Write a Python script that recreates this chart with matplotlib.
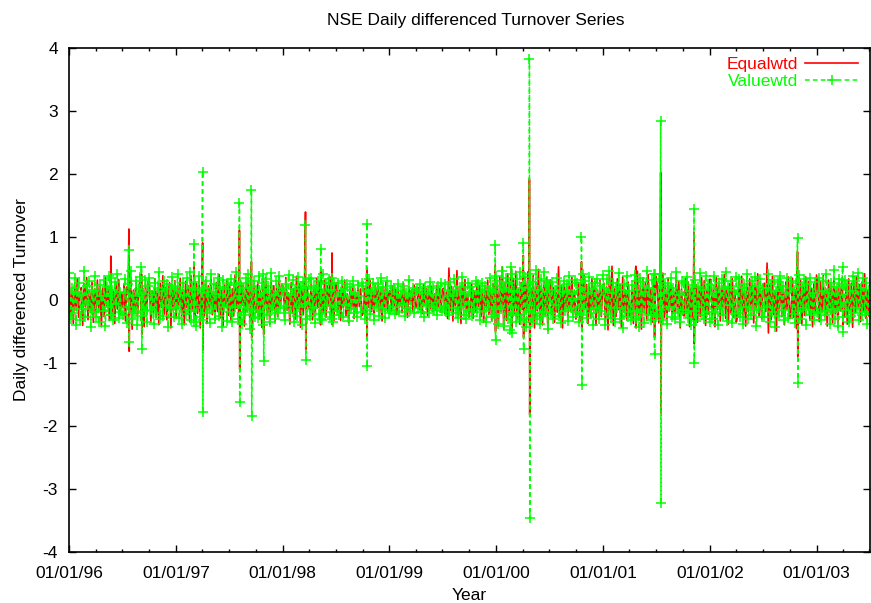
import matplotlib
matplotlib.use('Agg')
import matplotlib.pyplot as plt
import matplotlib.dates as mdates
import pandas as pd

plt.rcParams['font.family'] = ['Liberation Sans', 'DejaVu Sans']
plt.rcParams['axes.unicode_minus'] = False

# everyday noise band of the differenced turnover, one row per half-year
value_base = [
    0.42, -0.31, 0.18, -0.22, 0.35, -0.40, 0.12, 0.27, -0.33, 0.08, -0.15, 0.46, -0.28, 0.21, -0.09, 0.30, -0.44, 0.15, -0.19, 0.38,
    -0.27, 0.14, -0.36, 0.23, 0.06, -0.18, 0.31, -0.42, 0.20, -0.11, 0.37, -0.24, 0.16, -0.33, 0.28, -0.07, 0.41, -0.29, 0.12, -0.20,
    -0.25, 0.11, 0.33, -0.37, 0.24, -0.12, 0.45, -0.30, 0.05, -0.21, 0.29, -0.41, 0.17, 0.36, -0.26, 0.09, -0.18, 0.31, -0.35, 0.22,
    0.34, -0.16, 0.08, -0.39, 0.27, -0.22, 0.19, 0.43, -0.31, 0.13, -0.26, 0.30, -0.10, 0.25, -0.44, 0.17, -0.13, 0.36, -0.28, 0.21,
    -0.14, 0.40, -0.29, 0.13, -0.38, 0.26, 0.07, -0.23, 0.34, -0.16, 0.43, -0.32, 0.19, -0.08, 0.28, -0.42, 0.16, 0.37, -0.27, 0.10,
    -0.33, 0.18, 0.29, -0.21, 0.12, -0.37, 0.40, -0.15, 0.24, -0.30, 0.09, 0.35, -0.26, 0.20, -0.43, 0.31, -0.12, 0.17, -0.34, 0.27,
    -0.20, 0.32, -0.36, 0.23, -0.11, 0.44, -0.30, 0.06, 0.27, -0.39, 0.18, -0.24, 0.35, -0.13, 0.41, -0.46, 0.20, -0.17, 0.30, -0.28,
    0.15, -0.29, 0.38, -0.19, 0.26, -0.41, 0.11, 0.33, -0.24, 0.21, -0.35, 0.42, -0.16, 0.08, -0.31, 0.29, -0.22, 0.37, -0.14, 0.19,
    0.14, -0.33, 0.25, -0.10, 0.39, -0.22, 0.08, 0.31, -0.35, 0.17, -0.26, 0.36, -0.12, 0.22, -0.40, 0.28, -0.07, 0.19, -0.30, 0.33,
    -0.26, 0.35, -0.14, 0.22, -0.37, 0.18, 0.29, -0.23, 0.11, -0.32, 0.40, -0.19, 0.26, -0.09, 0.33, -0.28, 0.15, -0.36, 0.24, -0.12,
    -0.18, 0.26, -0.24, 0.12, 0.30, -0.27, 0.16, -0.09, 0.24, -0.34, 0.20, -0.15, 0.29, -0.21, 0.10, -0.28, 0.23, 0.05, -0.19, 0.27,
    0.21, -0.30, 0.14, -0.17, 0.33, -0.23, 0.09, 0.27, -0.32, 0.18, -0.11, 0.25, -0.26, 0.35, -0.14, 0.20, -0.29, 0.12, 0.30, -0.22,
    -0.16, 0.21, -0.12, 0.18, -0.23, 0.09, 0.25, -0.20, 0.14, -0.08, 0.22, -0.26, 0.11, -0.14, 0.31, -0.18, 0.07, 0.19, -0.22, 0.13,
    0.17, -0.14, 0.24, -0.19, 0.10, -0.27, 0.20, -0.09, 0.15, -0.22, 0.28, -0.12, 0.18, -0.17, 0.08, -0.24, 0.22, -0.13, 0.26, -0.18,
    -0.10, 0.24, -0.19, 0.16, -0.25, 0.28, -0.13, 0.06, 0.33, -0.21, 0.15, -0.29, 0.20, -0.11, 0.36, -0.24, 0.12, -0.31, 0.26, -0.17,
    0.20, -0.26, 0.13, -0.15, 0.30, -0.20, 0.24, -0.32, 0.10, 0.27, -0.18, 0.22, -0.35, 0.16, -0.12, 0.34, -0.27, 0.19, -0.23, 0.38,
    0.30, -0.38, 0.22, -0.15, 0.45, -0.42, 0.18, 0.35, -0.30, 0.27, -0.48, 0.40, -0.20, 0.13, -0.36, 0.32, -0.25, 0.43, -0.33, 0.19,
    -0.29, 0.36, -0.44, 0.24, -0.17, 0.41, -0.35, 0.28, -0.22, 0.47, -0.31, 0.15, -0.39, 0.33, -0.26, 0.44, -0.19, 0.30, -0.46, 0.25,
    -0.22, 0.28, -0.31, 0.15, -0.09, 0.34, -0.26, 0.21, -0.37, 0.12, 0.29, -0.18, 0.24, -0.34, 0.38, -0.14, 0.09, -0.27, 0.31, -0.20,
    0.26, -0.35, 0.19, -0.24, 0.41, -0.15, 0.30, -0.29, 0.11, 0.36, -0.22, 0.17, -0.40, 0.27, -0.13, 0.33, -0.31, 0.22, -0.18, 0.39,
    0.18, -0.40, 0.33, -0.23, 0.46, -0.29, 0.11, 0.27, -0.36, 0.20, -0.13, 0.42, -0.31, 0.16, -0.45, 0.25, -0.19, 0.37, -0.28, 0.14,
    -0.32, 0.23, -0.18, 0.39, -0.26, 0.15, -0.43, 0.34, -0.21, 0.28, -0.37, 0.12, 0.45, -0.24, 0.19, -0.33, 0.31, -0.14, 0.40, -0.27,
    -0.24, 0.32, -0.17, 0.40, -0.33, 0.10, 0.26, -0.38, 0.21, -0.12, 0.35, -0.27, 0.18, -0.30, 0.44, -0.22, 0.08, -0.35, 0.29, -0.16,
    0.27, -0.21, 0.36, -0.29, 0.14, -0.40, 0.23, -0.18, 0.31, -0.34, 0.20, -0.12, 0.42, -0.25, 0.16, -0.31, 0.37, -0.19, 0.24, -0.36,
    0.23, -0.30, 0.38, -0.19, 0.12, -0.41, 0.27, -0.14, 0.33, -0.25, 0.17, 0.43, -0.34, 0.20, -0.09, 0.30, -0.37, 0.15, -0.23, 0.36,
    -0.22, 0.33, -0.27, 0.18, -0.38, 0.25, -0.11, 0.40, -0.31, 0.14, -0.24, 0.29, -0.17, 0.36, -0.42, 0.21, -0.13, 0.32, -0.28, 0.19,
    -0.28, 0.19, -0.12, 0.41, -0.35, 0.24, -0.20, 0.31, -0.44, 0.13, 0.28, -0.26, 0.37, -0.16, 0.22, -0.32, 0.10, 0.34, -0.29, 0.18,
    0.30, -0.23, 0.15, -0.37, 0.27, -0.18, 0.39, -0.30, 0.21, -0.13, 0.33, -0.41, 0.24, -0.16, 0.35, -0.25, 0.11, -0.33, 0.28, -0.20,
    -0.21, 0.35, -0.33, 0.14, 0.29, -0.24, 0.40, -0.18, 0.11, -0.38, 0.26, -0.15, 0.47, -0.30, 0.20, -0.42, 0.32, -0.12, 0.24, -0.27,
    0.31, -0.17, 0.23, -0.36, 0.14, -0.26, 0.38, -0.22, 0.29, -0.13, 0.42, -0.32, 0.18, -0.25, 0.35, -0.19, 0.27, -0.39, 0.16, -0.23,
]

equal_base = [
    0.30, -0.25, 0.12, -0.38, 0.22, -0.15, 0.33, -0.28, 0.09, 0.19, -0.41, 0.26, -0.11, 0.35, -0.32, 0.14, -0.20, 0.28, -0.36, 0.17,
    -0.22, 0.31, -0.14, 0.24, -0.43, 0.18, -0.27, 0.35, -0.10, 0.21, -0.33, 0.28, -0.19, 0.13, -0.38, 0.25, -0.15, 0.32, -0.24, 0.11,
    -0.12, 0.25, -0.34, 0.20, 0.08, -0.29, 0.36, -0.47, 0.15, -0.18, 0.31, -0.26, 0.10, 0.40, -0.33, 0.18, -0.43, 0.24, -0.16, 0.29,
    0.23, -0.36, 0.14, -0.21, 0.33, -0.28, 0.17, -0.40, 0.26, -0.12, 0.38, -0.23, 0.19, -0.32, 0.09, 0.27, -0.45, 0.21, -0.17, 0.30,
    -0.30, 0.21, -0.09, 0.34, -0.27, 0.16, -0.40, 0.29, -0.13, 0.22, -0.35, 0.38, -0.18, 0.11, -0.31, 0.26, -0.22, 0.33, -0.45, 0.15,
    0.18, -0.26, 0.31, -0.38, 0.22, -0.14, 0.36, -0.24, 0.12, -0.33, 0.27, -0.19, 0.40, -0.29, 0.15, -0.42, 0.23, -0.11, 0.30, -0.25,
    0.24, -0.33, 0.17, -0.26, 0.39, -0.14, 0.20, -0.37, 0.30, -0.10, 0.23, -0.42, 0.28, -0.19, 0.34, -0.29, 0.12, -0.48, 0.26, -0.16,
    -0.20, 0.28, -0.31, 0.14, -0.44, 0.25, -0.17, 0.35, -0.23, 0.11, -0.39, 0.30, -0.15, 0.22, -0.34, 0.18, -0.27, 0.37, -0.12, 0.24,
    0.21, -0.28, 0.35, -0.17, 0.11, -0.39, 0.27, -0.22, 0.18, -0.31, 0.37, -0.14, 0.25, -0.44, 0.16, -0.24, 0.30, -0.35, 0.20, -0.12,
    -0.17, 0.26, -0.32, 0.19, -0.23, 0.34, -0.13, 0.28, -0.40, 0.15, -0.21, 0.31, -0.28, 0.22, -0.10, 0.36, -0.26, 0.13, -0.33, 0.25,
    0.27, -0.20, 0.15, -0.33, 0.22, -0.13, 0.31, -0.26, 0.09, -0.37, 0.19, -0.16, 0.25, -0.30, 0.12, -0.22, 0.28, -0.11, 0.17, -0.25,
    -0.21, 0.18, -0.28, 0.24, -0.12, 0.30, -0.19, 0.14, -0.31, 0.22, -0.09, 0.27, -0.23, 0.16, -0.34, 0.20, -0.14, 0.29, -0.18, 0.11,
    0.14, -0.18, 0.22, -0.10, 0.16, -0.24, 0.19, -0.12, 0.08, -0.21, 0.26, -0.15, 0.11, -0.28, 0.20, -0.07, 0.15, -0.19, 0.23, -0.13,
    -0.11, 0.19, -0.16, 0.13, -0.22, 0.24, -0.09, 0.17, -0.25, 0.12, -0.14, 0.21, -0.19, 0.09, -0.17, 0.23, -0.12, 0.18, -0.20, 0.15,
    0.18, -0.22, 0.12, -0.30, 0.50, -0.17, 0.21, -0.34, 0.14, -0.09, 0.46, -0.25, 0.19, -0.38, 0.27, -0.14, 0.32, -0.21, 0.10, -0.28,
    -0.16, 0.25, -0.30, 0.13, -0.20, 0.29, -0.11, 0.22, -0.27, 0.16, -0.36, 0.20, -0.13, 0.31, -0.24, 0.17, -0.33, 0.26, -0.19, 0.14,
    0.24, -0.42, 0.36, -0.19, 0.52, -0.47, 0.28, -0.33, 0.41, -0.25, 0.18, -0.50, 0.34, -0.22, 0.45, -0.30, 0.16, -0.39, 0.27, -0.15,
    -0.27, 0.33, -0.21, 0.44, -0.36, 0.19, -0.29, 0.38, -0.45, 0.25, -0.18, 0.48, -0.32, 0.22, -0.40, 0.30, -0.24, 0.35, -0.49, 0.20,
    0.31, -0.24, 0.19, -0.36, 0.12, -0.20, 0.52, -0.28, 0.23, -0.45, 0.30, -0.14, 0.21, -0.33, 0.27, -0.18, 0.35, -0.26, 0.13, -0.31,
    -0.19, 0.27, -0.34, 0.16, -0.25, 0.39, -0.13, 0.24, -0.38, 0.20, -0.28, 0.33, -0.17, 0.29, -0.41, 0.14, -0.22, 0.31, -0.27, 0.18,
    0.26, -0.35, 0.20, -0.48, 0.38, -0.22, 0.53, -0.41, 0.17, -0.27, 0.33, -0.16, 0.24, -0.44, 0.36, -0.20, 0.15, -0.32, 0.28, -0.23,
    -0.29, 0.21, -0.38, 0.31, -0.17, 0.45, -0.25, 0.19, -0.47, 0.34, -0.14, 0.27, -0.33, 0.40, -0.22, 0.16, -0.36, 0.29, -0.20, 0.37,
    0.19, -0.37, 0.30, -0.15, 0.42, -0.29, 0.22, -0.40, 0.34, -0.18, 0.25, -0.31, 0.13, -0.26, 0.38, -0.21, 0.29, -0.45, 0.17, -0.24,
    -0.26, 0.33, -0.20, 0.28, -0.43, 0.17, -0.31, 0.39, -0.14, 0.24, -0.36, 0.21, -0.27, 0.35, -0.18, 0.30, -0.41, 0.15, -0.23, 0.32,
    0.32, -0.27, 0.20, -0.43, 0.35, -0.16, 0.28, -0.34, 0.22, -0.12, 0.40, -0.30, 0.17, -0.39, 0.25, -0.21, 0.33, -0.28, 0.14, -0.36,
    -0.25, 0.30, -0.18, 0.37, -0.29, 0.14, -0.42, 0.26, -0.20, 0.33, -0.15, 0.29, -0.37, 0.22, -0.13, 0.41, -0.26, 0.18, -0.31, 0.24,
    0.26, -0.19, 0.58, -0.53, 0.23, -0.32, 0.37, -0.24, 0.15, -0.50, 0.30, -0.18, 0.34, -0.27, 0.21, -0.40, 0.28, -0.16, 0.36, -0.30,
    -0.22, 0.34, -0.28, 0.16, -0.46, 0.27, -0.17, 0.31, -0.39, 0.20, -0.25, 0.36, -0.14, 0.29, -0.33, 0.18, -0.43, 0.25, -0.21, 0.39,
    0.22, -0.35, 0.29, -0.20, 0.38, -0.26, 0.17, -0.42, 0.31, -0.14, 0.25, -0.37, 0.33, -0.22, 0.19, -0.45, 0.27, -0.18, 0.34, -0.25,
    -0.28, 0.20, -0.39, 0.33, -0.16, 0.26, -0.44, 0.30, -0.21, 0.37, -0.13, 0.24, -0.35, 0.28, -0.19, 0.41, -0.30, 0.15, -0.26, 0.32,
]

# one-day jumps: value on the day, then the reversal on the next day
spike_dates = ['1996-05-23', '1996-07-24', '1996-09-05', '1997-03-03', '1997-04-02',
               '1997-08-06', '1997-09-16', '1997-10-27', '1998-03-20', '1998-05-11',
               '1998-06-19', '1998-10-16', '1999-12-29', '2000-02-22', '2000-04-03',
               '2000-04-24', '2000-10-19', '2001-04-23', '2001-06-25', '2001-07-17',
               '2001-11-08', '2002-10-28', '2003-03-31']
equal_up = [0.69, 1.12, 0.40, 0.55, 0.90, 1.10, 0.60, 0.35, 1.39, 0.45, 0.74, 0.50,
            0.55, 0.50, 0.70, 1.91, 0.60, 0.53, 0.35, 2.02, 1.06, 0.76, 0.30]
equal_down = [-0.30, -0.82, -0.55, -0.30, -0.80, -1.10, -0.60, -0.55, -0.80, -0.25, -0.40, -0.60,
              -0.50, -0.40, -0.60, -1.83, -0.45, -0.45, -0.60, -1.80, -0.70, -0.90, -0.40]
value_up = [0.35, 0.78, 0.52, 0.88, 2.03, 1.53, 1.74, 0.40, 1.19, 0.80, 0.35, 1.20,
            0.87, 0.52, 0.90, 3.82, 0.99, 0.30, 0.40, 2.83, 1.44, 0.97, 0.52]
value_down = [-0.25, -0.68, -0.78, -0.35, -1.78, -1.62, -1.84, -0.97, -0.96, -0.30, -0.30, -1.06,
              -0.64, -0.53, -0.78, -3.47, -1.36, -0.30, -0.86, -3.22, -1.01, -1.33, -0.51]


def build_series(base, up, down):
    days = pd.date_range('1996-01-02', '2003-07-03', periods=len(base))
    s = pd.Series(base, index=days)
    d = pd.to_datetime(spike_dates)
    jumps = pd.concat([pd.Series(up, index=d),
                       pd.Series(down, index=d + pd.Timedelta(days=1))])
    return pd.concat([s, jumps]).sort_index()


equal = build_series(equal_base, equal_up, equal_down)
value = build_series(value_base, value_up, value_down)

fig = plt.figure(figsize=(8.71, 6.03), dpi=100)
ax = fig.add_axes([69 / 871, 1 - 551.7 / 603, 801 / 871, 504.2 / 603])

ax.plot(equal.index, equal.values, color='#ff0000', lw=1.2, label='Equalwtd')
ax.plot(value.index, value.values, color='#00ff00', lw=1.1, ls=(0, (3, 2.2)),
        marker='+', markersize=6.5, markeredgewidth=1.1, label='Valuewtd')

ax.set_xlim(pd.Timestamp('1996-01-01'), pd.Timestamp('2003-07-03'))
ax.set_ylim(-4, 4)
ax.set_yticks(range(-4, 5))

ax.xaxis.set_major_locator(mdates.YearLocator())
ax.xaxis.set_minor_locator(mdates.MonthLocator(bymonth=[4, 7, 10]))
ax.xaxis.set_major_formatter(mdates.DateFormatter('%m/%d/%y'))

ax.tick_params(which='both', direction='in', top=True, right=True, labelsize=12.5, width=1)
ax.tick_params(which='major', length=5)
ax.tick_params(which='minor', length=2.5)
ax.tick_params(axis='x', pad=10)
ax.tick_params(axis='y', pad=8)
for sp in ax.spines.values():
    sp.set_linewidth(1.2)

fig.text(476 / 871, 1 - 20 / 603, 'NSE Daily differenced Turnover Series',
         ha='center', va='center', fontsize=12.5)
ax.set_xlabel('Year', fontsize=12.5, labelpad=5)
ax.set_ylabel('Daily differenced Turnover', fontsize=12.5, labelpad=10)

leg = ax.legend(loc='upper right', bbox_to_anchor=(1.004, 1.012), frameon=False,
                markerfirst=False, numpoints=1, handlelength=3.0, handletextpad=0.45,
                labelspacing=0.1, fontsize=12.5, labelcolor='linecolor')

fig.savefig('out.png', dpi=100)
